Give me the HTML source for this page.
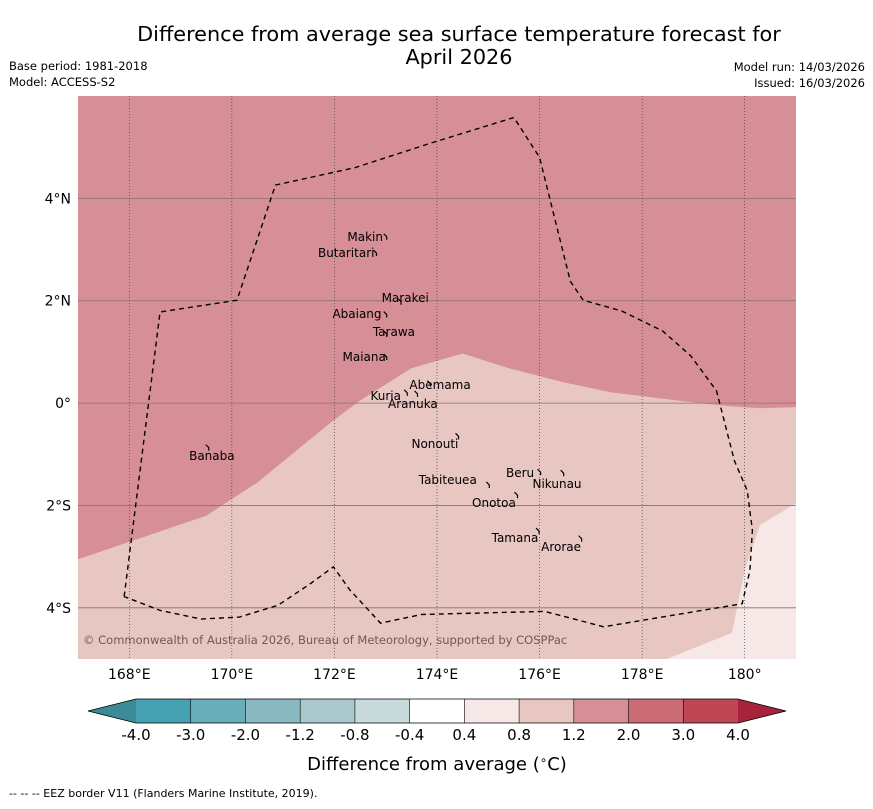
<!DOCTYPE html>
<html><head><meta charset="utf-8"><style>
body{margin:0;background:#fff;font-family:"Liberation Sans","DejaVu Sans",sans-serif;}
svg text{font-family:"DejaVu Sans","Liberation Sans",sans-serif;}
</style></head><body>
<svg id="c" width="873" height="804" viewBox="0 0 873 804" xmlns="http://www.w3.org/2000/svg">
<text x="459" y="41" font-size="20.8" text-anchor="middle">Difference from average sea surface temperature forecast for</text>
<text x="459" y="64" font-size="20.8" text-anchor="middle">April 2026</text>
<text x="9" y="70" font-size="11.5">Base period: 1981-2018</text>
<text x="9" y="86" font-size="11.5">Model: ACCESS-S2</text>
<text x="865" y="71" font-size="11.5" text-anchor="end">Model run: 14/03/2026</text>
<text x="865" y="87" font-size="11.5" text-anchor="end">Issued: 16/03/2026</text>
<g id="map"></g>
<g id="cbar"></g>
<text x="437" y="770" font-size="18" text-anchor="middle">Difference from average (<tspan font-size="12" dy="-6">∘</tspan><tspan dy="6">C)</tspan></text>
<text x="9" y="797" font-size="11">--  --  -- EEZ border V11 (Flanders Marine Institute, 2019).</text>
</svg>
<script>
const lonTicks=[168,170,172,174,176,178,180];
const latTicks=[4,2,0,-2,-4];
const levels=[-4.0,-3.0,-2.0,-1.2,-0.8,-0.4,0.4,0.8,1.2,2.0,3.0,4.0];
const levelLabels=["-4.0","-3.0","-2.0","-1.2","-0.8","-0.4","0.4","0.8","1.2","2.0","3.0","4.0"];
const binColors=["#3a8a98","#45a0b1","#68aeba","#8ab9c2","#a9c9cc","#c9dadd","#ffffff","#f5e8e6","#e8c6c2","#d68f96","#cb6b75","#bf4655","#a8223c"];
const warmEdgeLon=[167,169.5,170.5,171.9,172.5,173.5,174.5,175.4,176.5,177.4,179.1,179.7,180.3,181];
const warmEdgeLat=[-3.05,-2.2,-1.55,-0.4,0.05,0.68,0.97,0.68,0.4,0.21,0.0,-0.06,-0.1,-0.08];
const coolEdgeLon=[178.48,179.75,180.0,180.3,181];
const coolEdgeLat=[-5.0,-4.49,-3.26,-2.38,-1.96];
const eezLon=[167.9,168.6,170.1,170.85,172.4,173.85,175.5,176.0,176.6,176.85,177.6,178.4,178.95,179.45,179.8,180.05,180.15,180.1,179.95,177.25,176.1,173.7,172.9,172.3,171.98,171.5,170.9,170.15,169.4,168.6,167.9];
const eezLat=[-3.78,1.78,2.01,4.26,4.6,5.07,5.58,4.8,2.38,2.01,1.8,1.41,0.92,0.24,-1.13,-1.71,-2.49,-3.28,-3.92,-4.37,-4.07,-4.13,-4.3,-3.65,-3.2,-3.55,-3.95,-4.18,-4.22,-4.05,-3.78];
const islandNames=["Makin","Butaritari","Marakei","Abaiang","Tarawa","Maiana","Abemama","Kuria","Aranuka","Nonouti","Banaba","Beru","Tabiteuea","Nikunau","Onotoa","Tamana","Arorae"];
const islandLon=[173.0,172.8,173.28,173.0,173.0,173.0,173.85,173.4,173.6,174.4,169.53,176.0,175.0,176.45,175.55,175.97,176.8];
const islandLat=[3.25,2.93,1.98,1.73,1.35,0.9,0.38,0.2,0.18,-0.65,-0.87,-1.35,-1.6,-1.37,-1.8,-2.5,-2.65];
const labelLon=[172.6,172.23,173.38,172.44,173.16,172.58,174.06,173.0,173.53,173.96,169.61,175.62,174.21,176.34,175.11,175.52,176.42];
const labelLat=[3.245,2.93,2.05,1.74,1.39,0.9,0.35,0.14,-0.02,-0.8,-1.03,-1.37,-1.5,-1.58,-1.95,-2.64,-2.81];

const NS="http://www.w3.org/2000/svg";
const X0=78,X1=796,Y0=96,Y1=659,LON0=167,LON1=181,LAT0=6,LAT1=-5;
const xs=l=>X0+(l-LON0)/(LON1-LON0)*(X1-X0);
const ys=l=>Y0+(LAT0-l)/(LAT0-LAT1)*(Y1-Y0);
function mk(t,a,p){const e=document.createElementNS(NS,t);for(const k in a)e.setAttribute(k,a[k]);p.appendChild(e);return e;}
const map=document.getElementById('map');
const clip=mk('clipPath',{id:'mc'},map);mk('rect',{x:X0,y:Y0,width:X1-X0,height:Y1-Y0},clip);
const g=mk('g',{'clip-path':'url(#mc)'},map);
let r=mk('rect',{x:X0,y:Y0,width:X1-X0,height:Y1-Y0,fill:binColors[9]},g);

let pts=warmEdgeLon.map((l,i)=>xs(l)+','+ys(warmEdgeLat[i])).join(' ')+` ${X1},${Y1} ${X0},${Y1}`;
let p=mk('polygon',{points:pts,fill:binColors[8]},g);

pts=coolEdgeLon.map((l,i)=>xs(l)+','+ys(coolEdgeLat[i])).join(' ')+` ${X1},${Y1}`;
p=mk('polygon',{points:pts,fill:binColors[7]},g);

latTicks.forEach(v=>{const l=mk('line',{x1:X0,x2:X1,y1:ys(v),y2:ys(v),stroke:'#8a7070','stroke-width':0.8},g);
});
lonTicks.forEach(v=>{const l=mk('line',{x1:xs(v),x2:xs(v),y1:Y0,y2:Y1,stroke:'#333','stroke-width':0.6,'stroke-dasharray':'1,2'},g);
});
const ez=mk('polyline',{points:eezLon.map((l,i)=>xs(l)+','+ys(eezLat[i])).join(' '),fill:'none',stroke:'#000','stroke-width':1.4,'stroke-dasharray':'5,4'},g);

islandNames.forEach((n,i)=>{
 const s=mk('path',{d:`M${xs(islandLon[i])-2},${ys(islandLat[i])-3} l3,3 l0,3`,stroke:'#000','stroke-width':1.2,fill:'none'},g);
 
 const t=mk('text',{x:xs(labelLon[i]),y:ys(labelLat[i])+4,'font-size':12,'text-anchor':'middle'},g);
 t.textContent=n;
 
});
const cp=mk('text',{x:83,y:644,'font-size':11.5,fill:'#6e5a5a'},g);cp.textContent='© Commonwealth of Australia 2026, Bureau of Meteorology, supported by COSPPac';

latTicks.forEach(v=>{const t=mk('text',{x:71,y:ys(v)+5,'font-size':14,'text-anchor':'end'},map);
t.textContent=v===0?'0°':Math.abs(v)+'°'+(v>0?'N':'S');
});
lonTicks.forEach(v=>{const t=mk('text',{x:xs(v),y:679,'font-size':14,'text-anchor':'middle'},map);
t.textContent=v===180?'180°':v+'°E';
});
const cb=document.getElementById('cbar');
const CX0=136,CX1=738,CY0=699,CY1=723;
const cx=i=>CX0+i/(levels.length-1)*(CX1-CX0);
for(let i=0;i<levels.length-1;i++){const b=mk('rect',{x:cx(i),y:CY0,width:cx(i+1)-cx(i),height:CY1-CY0,fill:binColors[i+1]},cb);
}
let tl=mk('polygon',{points:`${CX0},${CY0} ${CX0},${CY1} 88,${(CY0+CY1)/2}`,fill:binColors[0]},cb);

let tr=mk('polygon',{points:`${CX1},${CY0} ${CX1},${CY1} 786,${(CY0+CY1)/2}`,fill:binColors[12]},cb);

mk('polygon',{points:`88,${(CY0+CY1)/2} ${CX0},${CY0} ${CX1},${CY0} 786,${(CY0+CY1)/2} ${CX1},${CY1} ${CX0},${CY1}`,fill:'none',stroke:'#000','stroke-width':0.8},cb);
for(let i=0;i<levels.length;i++){if(i>0&&i<levels.length-1)mk('line',{x1:cx(i),x2:cx(i),y1:CY0,y2:CY1,stroke:'#000','stroke-width':0.6},cb);
const t=mk('text',{x:cx(i),y:740,'font-size':15,'text-anchor':'middle'},cb);t.textContent=levelLabels[i];
}
</script>
</body></html>
